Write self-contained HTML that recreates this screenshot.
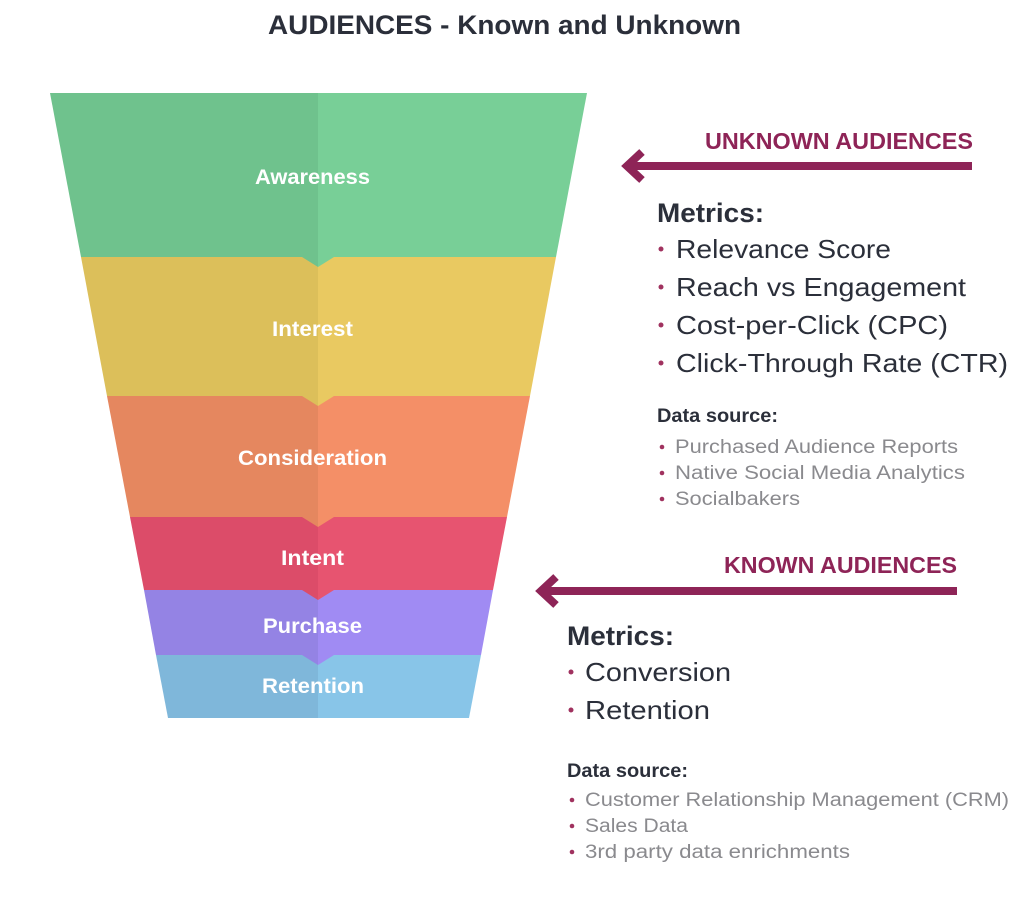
<!DOCTYPE html>
<html><head><meta charset="utf-8"><style>
html,body{margin:0;padding:0;background:#fff;}
svg{display:block;font-family:"Liberation Sans",sans-serif;}
</style></head><body>
<svg width="1024" height="907" viewBox="0 0 1024 907" xmlns="http://www.w3.org/2000/svg">
<text x="268" y="34" font-size="27" font-weight="bold" fill="#2b2f3a" textLength="473" lengthAdjust="spacingAndGlyphs">AUDIENCES - Known and Unknown</text>
<polygon points="50,93 318,93 318,257 81,257" fill="#6fc28d"/>
<polygon points="318,93 587,93 556,257 318,257" fill="#78cf97"/>
<polygon points="81,257 318,257 318,396 107,396" fill="#dcbf5a"/>
<polygon points="318,257 556,257 530,396 318,396" fill="#e9c961"/>
<polygon points="107,396 318,396 318,517 130,517" fill="#e5875f"/>
<polygon points="318,396 530,396 507,517 318,517" fill="#f48f67"/>
<polygon points="130,517 318,517 318,590 144,590" fill="#dc4c69"/>
<polygon points="318,517 507,517 493,590 318,590" fill="#e75470"/>
<polygon points="144,590 318,590 318,655 156,655" fill="#9483e4"/>
<polygon points="318,590 493,590 481,655 318,655" fill="#a08bf3"/>
<polygon points="156,655 318,655 318,718 168,718" fill="#7fb7da"/>
<polygon points="318,655 481,655 469,718 318,718" fill="#88c5e8"/>
<polygon points="302,257 318,257 318,267" fill="#6fc28d"/><polygon points="318,257 334,257 318,267" fill="#78cf97"/>
<polygon points="302,396 318,396 318,406" fill="#dcbf5a"/><polygon points="318,396 334,396 318,406" fill="#e9c961"/>
<polygon points="302,517 318,517 318,527" fill="#e5875f"/><polygon points="318,517 334,517 318,527" fill="#f48f67"/>
<polygon points="302,590 318,590 318,600" fill="#dc4c69"/><polygon points="318,590 334,590 318,600" fill="#e75470"/>
<polygon points="302,655 318,655 318,665" fill="#9483e4"/><polygon points="318,655 334,655 318,665" fill="#a08bf3"/>
<g font-size="21" font-weight="bold" fill="#fff" lengthAdjust="spacingAndGlyphs">
<text x="255" y="184" textLength="115" lengthAdjust="spacingAndGlyphs">Awareness</text>
<text x="272" y="336" textLength="81" lengthAdjust="spacingAndGlyphs">Interest</text>
<text x="238" y="465" textLength="149" lengthAdjust="spacingAndGlyphs">Consideration</text>
<text x="281" y="565" textLength="63" lengthAdjust="spacingAndGlyphs">Intent</text>
<text x="263" y="633" textLength="99" lengthAdjust="spacingAndGlyphs">Purchase</text>
<text x="262" y="693" textLength="102" lengthAdjust="spacingAndGlyphs">Retention</text>
</g>
<text x="705" y="149" font-size="23" font-weight="bold" fill="#8e2457" textLength="268" lengthAdjust="spacingAndGlyphs">UNKNOWN AUDIENCES</text>
<line x1="630" y1="166" x2="972" y2="166" stroke="#8e2457" stroke-width="8"/>
<polyline points="642,152 627,166 642,180" fill="none" stroke="#8e2457" stroke-width="8"/>
<text x="657" y="222" font-size="27" font-weight="bold" fill="#2b2f3a" textLength="107" lengthAdjust="spacingAndGlyphs">Metrics:</text>
<g font-size="26" fill="#2b2f3a">
<text x="676" y="258" textLength="215" lengthAdjust="spacingAndGlyphs">Relevance Score</text>
<text x="676" y="296" textLength="290" lengthAdjust="spacingAndGlyphs">Reach vs Engagement</text>
<text x="676" y="334" textLength="272" lengthAdjust="spacingAndGlyphs">Cost-per-Click (CPC)</text>
<text x="676" y="372" textLength="332" lengthAdjust="spacingAndGlyphs">Click-Through Rate (CTR)</text>
</g>
<g fill="#a0325f"><circle cx="661" cy="249" r="2.5"/><circle cx="661" cy="287" r="2.5"/><circle cx="661" cy="325" r="2.5"/><circle cx="661" cy="363" r="2.5"/></g>
<text x="657" y="422" font-size="19" font-weight="bold" fill="#2b2f3a" textLength="121" lengthAdjust="spacingAndGlyphs">Data source:</text>
<g font-size="19" fill="#8a8a8e">
<text x="675" y="453" textLength="283" lengthAdjust="spacingAndGlyphs">Purchased Audience Reports</text>
<text x="675" y="479" textLength="290" lengthAdjust="spacingAndGlyphs">Native Social Media Analytics</text>
<text x="675" y="505" textLength="125" lengthAdjust="spacingAndGlyphs">Socialbakers</text>
</g>
<g fill="#a0325f"><circle cx="662" cy="447" r="2.3"/><circle cx="662" cy="473" r="2.3"/><circle cx="662" cy="499" r="2.3"/></g>
<text x="724" y="573" font-size="23" font-weight="bold" fill="#8e2457" textLength="233" lengthAdjust="spacingAndGlyphs">KNOWN AUDIENCES</text>
<line x1="546" y1="591" x2="957" y2="591" stroke="#8e2457" stroke-width="8"/>
<polyline points="556,577 541,591 556,605" fill="none" stroke="#8e2457" stroke-width="8"/>
<text x="567" y="645" font-size="27" font-weight="bold" fill="#2b2f3a" textLength="107" lengthAdjust="spacingAndGlyphs">Metrics:</text>
<g font-size="26" fill="#2b2f3a">
<text x="585" y="681" textLength="146" lengthAdjust="spacingAndGlyphs">Conversion</text>
<text x="585" y="719" textLength="125" lengthAdjust="spacingAndGlyphs">Retention</text>
</g>
<g fill="#a0325f"><circle cx="571" cy="672" r="2.5"/><circle cx="571" cy="710" r="2.5"/></g>
<text x="567" y="777" font-size="19" font-weight="bold" fill="#2b2f3a" textLength="121" lengthAdjust="spacingAndGlyphs">Data source:</text>
<g font-size="19" fill="#8a8a8e">
<text x="585" y="806" textLength="424" lengthAdjust="spacingAndGlyphs">Customer Relationship Management (CRM)</text>
<text x="585" y="832" textLength="103" lengthAdjust="spacingAndGlyphs">Sales Data</text>
<text x="585" y="858" textLength="265" lengthAdjust="spacingAndGlyphs">3rd party data enrichments</text>
</g>
<g fill="#a0325f"><circle cx="572" cy="800" r="2.3"/><circle cx="572" cy="826" r="2.3"/><circle cx="572" cy="852" r="2.3"/></g>
</svg>
</body></html>
